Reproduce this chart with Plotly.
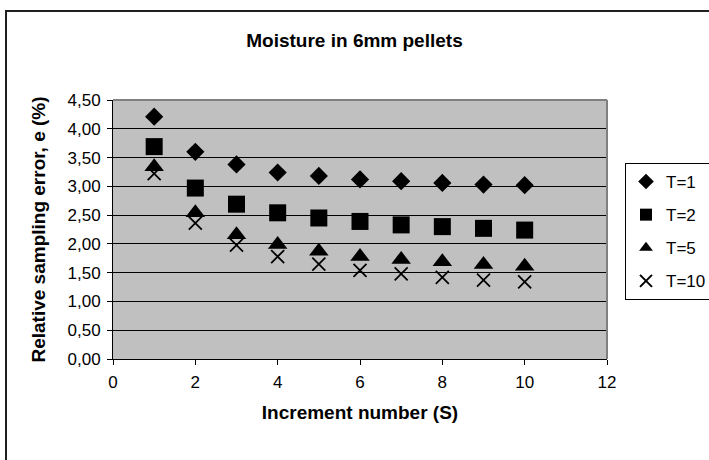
import plotly.graph_objects as go

increments = [1, 2, 3, 4, 5, 6, 7, 8, 9, 10]
t1 = [4.21, 3.60, 3.38, 3.24, 3.18, 3.12, 3.09, 3.06, 3.03, 3.02]
t2 = [3.69, 2.97, 2.69, 2.54, 2.45, 2.39, 2.33, 2.30, 2.27, 2.24]
t5 = [3.34, 2.54, 2.16, 1.99, 1.87, 1.78, 1.73, 1.69, 1.64, 1.61]
t10 = [3.22, 2.36, 1.98, 1.78, 1.65, 1.54, 1.48, 1.42, 1.37, 1.34]
series_names = ["T=1", "T=2", "T=5", "T=10"]
y_ticks = [0, 0.5, 1, 1.5, 2, 2.5, 3, 3.5, 4, 4.5]
x_ticks = [0, 2, 4, 6, 8, 10, 12]

FONT = "Liberation Sans, Arial, sans-serif"
W, H = 709, 460
L, R, T, B = 113, 607, 100, 359

fig = go.Figure()
markers = [
    dict(symbol="diamond", size=14, color="black"),
    dict(symbol="square", size=17, color="black"),
    dict(symbol="triangle-up", size=17, color="black"),
    dict(symbol="x-thin", size=13, color="black", line=dict(color="black", width=1.8)),
]
for name, ys, mk in zip(series_names, [t1, t2, t5, t10], markers):
    fig.add_trace(go.Scatter(x=increments, y=ys, mode="markers", name=name,
                             legendgroup=name, marker=mk))

fig.update_layout(
    width=W, height=H,
    margin=dict(l=L, r=W - R, t=T, b=H - B, autoexpand=False),
    paper_bgcolor="white",
    plot_bgcolor="#C0C0C0",
    separators=", ",
    font=dict(family=FONT, size=17, color="black"),
    title=dict(text="<b>Moisture in 6mm pellets</b>", x=0.5, xanchor="center",
               y=1 - 40 / H, yanchor="middle", font=dict(size=19)),
    showlegend=True,
    legend=dict(x=(625 - L) / (R - L), xanchor="left",
                y=1 - (163 - T) / (B - T), yanchor="top",
                bgcolor="white", bordercolor="black", borderwidth=1,
                font=dict(size=17), traceorder="grouped", tracegroupgap=8,
                itemwidth=30, itemsizing="constant"),
    xaxis=dict(range=[0, 12], tickvals=x_ticks, showgrid=False, zeroline=False,
               showline=True, linecolor="black", linewidth=1,
               ticks="outside", ticklen=5, tickcolor="black",
               tickfont=dict(size=17), ticklabelstandoff=3,
               title=dict(text="<b>Increment number (S)</b>", font=dict(size=19),
                          standoff=14)),
    yaxis=dict(range=[0, 4.5], tickvals=y_ticks, tickformat=".2f", showgrid=True,
               gridcolor="black", gridwidth=1, zeroline=False,
               showline=True, linecolor="black", linewidth=1,
               ticks="outside", ticklen=5, tickcolor="black",
               tickfont=dict(size=17), ticklabelstandoff=3,
               title=dict(text="<b>Relative sampling error, e (%)</b>",
                          font=dict(size=19), standoff=16)),
)

# plot-area border (top & right, gray)
fig.add_shape(type="line", xref="paper", yref="paper", x0=0, x1=1, y0=1, y1=1,
              line=dict(color="#808080", width=2))
fig.add_shape(type="line", xref="paper", yref="paper", x0=1, x1=1, y0=0, y1=1,
              line=dict(color="#808080", width=2))
# outer chart frame
px = lambda v: (v - L) / (R - L)
py = lambda v: 1 - (v - T) / (B - T)
fig.add_shape(type="rect", xref="paper", yref="paper",
              x0=px(6), x1=px(730), y0=py(480), y1=py(11),
              line=dict(color="#202020", width=2), layer="below")

fig.write_html("out.html")
